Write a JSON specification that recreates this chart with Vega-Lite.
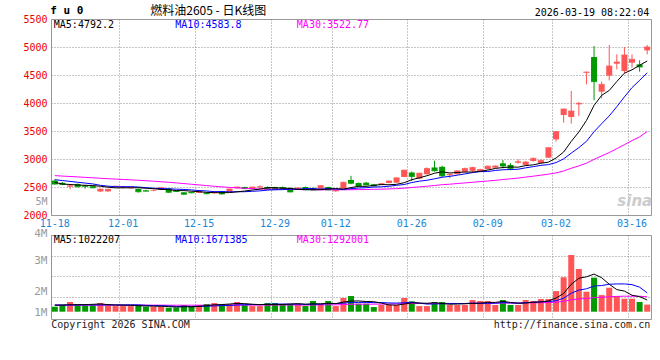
{
  "$schema": "https://vega.github.io/schema/vega-lite/v6.json",
  "background": "white",
  "padding": {"left": 22, "top": 4, "right": 10, "bottom": 30},
  "bounds": "flush",
  "spacing": 20,
  "config": {
    "view": {"stroke": "#999999", "strokeWidth": 1},
    "axis": {"labelFont": "DejaVu Sans Mono", "labelFontSize": 10, "labelOverlap": false, "labelFlush": false, "labelBound": false,
      "grid": true, "gridColor": "#8c8c8c", "gridDash": [1, 2], "gridWidth": 1, "ticks": false, "domain": false},
    "text": {"font": "DejaVu Sans Mono", "fontSize": 10}
  },
  "datasets": {
    "k": [
      {"d":"11-18","o":2614,"h":2630,"l":2540,"c":2552,"v":460000,"m5":2583,"m10":2631,"m30":2703,"v5":600000,"v10":620000,"v30":600000},
      {"d":"11-19","o":2575,"h":2590,"l":2535,"c":2545,"v":620000,"m5":2553,"m10":2615,"m30":2695,"v5":610000,"v10":620000,"v30":600000},
      {"d":"11-20","o":2505,"h":2540,"l":2460,"c":2522,"v":900000,"m5":2545,"m10":2600,"m30":2688,"v5":640000,"v10":625000,"v30":600000},
      {"d":"11-21","o":2555,"h":2562,"l":2495,"c":2505,"v":710000,"m5":2535,"m10":2585,"m30":2680,"v5":650000,"v10":630000,"v30":600000},
      {"d":"11-24","o":2525,"h":2540,"l":2470,"c":2510,"v":590000,"m5":2530,"m10":2570,"m30":2672,"v5":656000,"v10":630000,"v30":600000},
      {"d":"11-25","o":2515,"h":2520,"l":2480,"c":2485,"v":590000,"m5":2527,"m10":2555,"m30":2664,"v5":682000,"v10":630000,"v30":600000},
      {"d":"11-26","o":2420,"h":2470,"l":2410,"c":2462,"v":800000,"m5":2513,"m10":2530,"m30":2656,"v5":718000,"v10":630000,"v30":605000},
      {"d":"11-27","o":2422,"h":2468,"l":2412,"c":2460,"v":590000,"m5":2497,"m10":2515,"m30":2648,"v5":656000,"v10":630000,"v30":605000},
      {"d":"11-28","o":2495,"h":2520,"l":2490,"c":2515,"v":520000,"m5":2484,"m10":2505,"m30":2641,"v5":618000,"v10":630000,"v30":605000},
      {"d":"12-01","o":2492,"h":2520,"l":2470,"c":2505,"v":520000,"m5":2486,"m10":2505,"m30":2635,"v5":604000,"v10":630000,"v30":605000},
      {"d":"12-02","o":2480,"h":2500,"l":2470,"c":2495,"v":520000,"m5":2485,"m10":2506,"m30":2628,"v5":590000,"v10":636000,"v30":605000},
      {"d":"12-03","o":2465,"h":2470,"l":2400,"c":2415,"v":620000,"m5":2487,"m10":2500,"m30":2620,"v5":554000,"v10":636000,"v30":605000},
      {"d":"12-04","o":2440,"h":2450,"l":2420,"c":2425,"v":460000,"m5":2478,"m10":2487,"m30":2612,"v5":528000,"v10":592000,"v30":605000},
      {"d":"12-05","o":2435,"h":2455,"l":2425,"c":2442,"v":460000,"m5":2471,"m10":2478,"m30":2603,"v5":516000,"v10":567000,"v30":605000},
      {"d":"12-08","o":2450,"h":2490,"l":2445,"c":2490,"v":460000,"m5":2456,"m10":2471,"m30":2594,"v5":504000,"v10":554000,"v30":605000},
      {"d":"12-09","o":2470,"h":2475,"l":2395,"c":2405,"v":370000,"m5":2453,"m10":2469,"m30":2584,"v5":474000,"v10":532000,"v30":600000},
      {"d":"12-10","o":2440,"h":2445,"l":2415,"c":2420,"v":370000,"m5":2435,"m10":2461,"m30":2573,"v5":424000,"v10":489000,"v30":600000},
      {"d":"12-11","o":2405,"h":2410,"l":2360,"c":2370,"v":620000,"m5":2436,"m10":2457,"m30":2561,"v5":456000,"v10":492000,"v30":600000},
      {"d":"12-12","o":2410,"h":2415,"l":2390,"c":2395,"v":460000,"m5":2425,"m10":2448,"m30":2549,"v5":456000,"v10":486000,"v30":600000},
      {"d":"12-15","o":2395,"h":2440,"l":2390,"c":2430,"v":620000,"m5":2416,"m10":2436,"m30":2537,"v5":488000,"v10":496000,"v30":600000},
      {"d":"12-16","o":2400,"h":2405,"l":2370,"c":2380,"v":710000,"m5":2404,"m10":2429,"m30":2525,"v5":556000,"v10":515000,"v30":600000},
      {"d":"12-17","o":2390,"h":2430,"l":2380,"c":2420,"v":800000,"m5":2399,"m10":2417,"m30":2513,"v5":642000,"v10":533000,"v30":600000},
      {"d":"12-18","o":2423,"h":2430,"l":2365,"c":2375,"v":710000,"m5":2399,"m10":2418,"m30":2502,"v5":660000,"v10":558000,"v30":600000},
      {"d":"12-19","o":2411,"h":2470,"l":2405,"c":2465,"v":710000,"m5":2400,"m10":2413,"m30":2493,"v5":710000,"v10":583000,"v30":600000},
      {"d":"12-22","o":2477,"h":2505,"l":2470,"c":2500,"v":900000,"m5":2414,"m10":2415,"m30":2485,"v5":766000,"v10":627000,"v30":605000},
      {"d":"12-23","o":2500,"h":2505,"l":2465,"c":2471,"v":620000,"m5":2428,"m10":2416,"m30":2477,"v5":748000,"v10":652000,"v30":605000},
      {"d":"12-24","o":2471,"h":2505,"l":2465,"c":2500,"v":520000,"m5":2446,"m10":2423,"m30":2470,"v5":692000,"v10":667000,"v30":605000},
      {"d":"12-25","o":2494,"h":2530,"l":2471,"c":2506,"v":520000,"m5":2462,"m10":2431,"m30":2465,"v5":654000,"v10":657000,"v30":608000},
      {"d":"12-26","o":2500,"h":2510,"l":2450,"c":2459,"v":800000,"m5":2488,"m10":2444,"m30":2462,"v5":672000,"v10":691000,"v30":610000},
      {"d":"12-29","o":2500,"h":2505,"l":2445,"c":2453,"v":800000,"m5":2487,"m10":2451,"m30":2462,"v5":652000,"v10":709000,"v30":612000},
      {"d":"12-30","o":2500,"h":2510,"l":2455,"c":2459,"v":710000,"m5":2478,"m10":2453,"m30":2463,"v5":670000,"v10":709000,"v30":620000},
      {"d":"12-31","o":2483,"h":2490,"l":2405,"c":2411,"v":710000,"m5":2475,"m10":2461,"m30":2460,"v5":708000,"v10":700000,"v30":623000},
      {"d":"01-05","o":2459,"h":2490,"l":2455,"c":2483,"v":710000,"m5":2458,"m10":2460,"m30":2455,"v5":746000,"v10":700000,"v30":617000},
      {"d":"01-06","o":2500,"h":2510,"l":2445,"c":2453,"v":520000,"m5":2453,"m10":2471,"m30":2454,"v5":690000,"v10":681000,"v30":610000},
      {"d":"01-07","o":2483,"h":2490,"l":2440,"c":2447,"v":990000,"m5":2452,"m10":2470,"m30":2452,"v5":728000,"v10":690000,"v30":624000},
      {"d":"01-08","o":2471,"h":2530,"l":2465,"c":2524,"v":710000,"m5":2451,"m10":2464,"m30":2450,"v5":728000,"v10":699000,"v30":628000},
      {"d":"01-09","o":2500,"h":2505,"l":2440,"c":2447,"v":990000,"m5":2464,"m10":2470,"m30":2451,"v5":784000,"v10":746000,"v30":634000},
      {"d":"01-12","o":2423,"h":2445,"l":2415,"c":2441,"v":520000,"m5":2471,"m10":2464,"m30":2451,"v5":746000,"v10":746000,"v30":632000},
      {"d":"01-13","o":2471,"h":2595,"l":2465,"c":2584,"v":1270000,"m5":2462,"m10":2458,"m30":2450,"v5":896000,"v10":793000,"v30":657000},
      {"d":"01-14","o":2626,"h":2699,"l":2548,"c":2566,"v":1450000,"m5":2489,"m10":2470,"m30":2452,"v5":988000,"v10":858000,"v30":688000},
      {"d":"01-15","o":2572,"h":2580,"l":2510,"c":2518,"v":740000,"m5":2512,"m10":2482,"m30":2454,"v5":994000,"v10":861000,"v30":695000},
      {"d":"01-16","o":2578,"h":2590,"l":2530,"c":2536,"v":740000,"m5":2511,"m10":2487,"m30":2455,"v5":944000,"v10":864000,"v30":699000},
      {"d":"01-19","o":2548,"h":2555,"l":2512,"c":2518,"v":430000,"m5":2529,"m10":2500,"m30":2459,"v5":926000,"v10":836000,"v30":698000},
      {"d":"01-20","o":2536,"h":2570,"l":2530,"c":2560,"v":620000,"m5":2544,"m10":2503,"m30":2462,"v5":796000,"v10":846000,"v30":703000},
      {"d":"01-21","o":2572,"h":2612,"l":2566,"c":2608,"v":620000,"m5":2540,"m10":2514,"m30":2466,"v5":630000,"v10":809000,"v30":709000},
      {"d":"01-22","o":2578,"h":2668,"l":2572,"c":2663,"v":620000,"m5":2548,"m10":2530,"m30":2470,"v5":606000,"v10":800000,"v30":717000},
      {"d":"01-23","o":2680,"h":2810,"l":2675,"c":2801,"v":1270000,"m5":2577,"m10":2544,"m30":2479,"v5":712000,"v10":828000,"v30":747000},
      {"d":"01-26","o":2759,"h":2777,"l":2608,"c":2687,"v":960000,"m5":2630,"m10":2580,"m30":2491,"v5":818000,"v10":872000,"v30":758000},
      {"d":"01-27","o":2650,"h":2752,"l":2640,"c":2747,"v":520000,"m5":2664,"m10":2604,"m30":2502,"v5":798000,"v10":797000,"v30":760000},
      {"d":"01-28","o":2729,"h":2849,"l":2720,"c":2831,"v":520000,"m5":2701,"m10":2620,"m30":2514,"v5":778000,"v10":704000,"v30":757000},
      {"d":"01-29","o":2849,"h":2970,"l":2777,"c":2789,"v":900000,"m5":2746,"m10":2647,"m30":2527,"v5":834000,"v10":720000,"v30":763000},
      {"d":"01-30","o":2861,"h":2880,"l":2680,"c":2699,"v":900000,"m5":2771,"m10":2674,"m30":2541,"v5":760000,"v10":736000,"v30":767000},
      {"d":"02-02","o":2710,"h":2735,"l":2657,"c":2728,"v":620000,"m5":2751,"m10":2690,"m30":2550,"v5":692000,"v10":755000,"v30":764000},
      {"d":"02-03","o":2729,"h":2795,"l":2720,"c":2789,"v":620000,"m5":2759,"m10":2711,"m30":2562,"v5":712000,"v10":755000,"v30":761000},
      {"d":"02-04","o":2771,"h":2845,"l":2765,"c":2831,"v":620000,"m5":2767,"m10":2734,"m30":2573,"v5":732000,"v10":755000,"v30":751000},
      {"d":"02-05","o":2789,"h":2861,"l":2753,"c":2849,"v":1080000,"m5":2767,"m10":2757,"m30":2584,"v5":768000,"v10":801000,"v30":767000},
      {"d":"02-06","o":2777,"h":2825,"l":2770,"c":2813,"v":990000,"m5":2779,"m10":2775,"m30":2596,"v5":786000,"v10":773000,"v30":782000},
      {"d":"02-09","o":2819,"h":2880,"l":2810,"c":2873,"v":990000,"m5":2802,"m10":2776,"m30":2607,"v5":860000,"v10":776000,"v30":798000},
      {"d":"02-10","o":2845,"h":2885,"l":2840,"c":2875,"v":620000,"m5":2831,"m10":2795,"m30":2619,"v5":860000,"v10":786000,"v30":792000},
      {"d":"02-11","o":2923,"h":2982,"l":2833,"c":2875,"v":1080000,"m5":2848,"m10":2808,"m30":2633,"v5":952000,"v10":842000,"v30":801000},
      {"d":"02-12","o":2893,"h":2923,"l":2798,"c":2833,"v":620000,"m5":2857,"m10":2812,"m30":2647,"v5":860000,"v10":814000,"v30":798000},
      {"d":"02-13","o":2934,"h":2994,"l":2917,"c":2952,"v":620000,"m5":2854,"m10":2817,"m30":2659,"v5":786000,"v10":786000,"v30":795000},
      {"d":"02-24","o":2893,"h":2964,"l":2875,"c":2946,"v":1080000,"m5":2882,"m10":2842,"m30":2677,"v5":804000,"v10":832000,"v30":808000},
      {"d":"02-25","o":2964,"h":3024,"l":2952,"c":3012,"v":990000,"m5":2896,"m10":2864,"m30":2693,"v5":878000,"v10":869000,"v30":823000},
      {"d":"02-26","o":2929,"h":2990,"l":2920,"c":2976,"v":1170000,"m5":2924,"m10":2886,"m30":2711,"v5":896000,"v10":924000,"v30":829000},
      {"d":"02-27","o":3024,"h":3210,"l":3020,"c":3202,"v":1170000,"m5":2944,"m10":2900,"m30":2729,"v5":1006000,"v10":933000,"v30":845000},
      {"d":"03-02","o":3351,"h":3495,"l":3310,"c":3488,"v":1910000,"m5":3018,"m10":2936,"m30":2752,"v5":1264000,"v10":1025000,"v30":875000},
      {"d":"03-03","o":3786,"h":3900,"l":3649,"c":3893,"v":3200000,"m5":3125,"m10":3003,"m30":2786,"v5":1688000,"v10":1246000,"v30":965000},
      {"d":"03-04","o":3750,"h":4214,"l":3631,"c":3857,"v":5250000,"m5":3314,"m10":3105,"m30":2835,"v5":2540000,"v10":1709000,"v30":1097000},
      {"d":"03-05","o":3976,"h":4018,"l":3768,"c":3994,"v":3950000,"m5":3483,"m10":3203,"m30":2877,"v5":3096000,"v10":1996000,"v30":1181000},
      {"d":"03-06","o":4541,"h":4560,"l":4333,"c":4553,"v":1850000,"m5":3687,"m10":3315,"m30":2925,"v5":3232000,"v10":2119000,"v30":1218000},
      {"d":"03-09","o":4821,"h":5018,"l":4048,"c":4381,"v":3150000,"m5":3957,"m10":3487,"m30":2993,"v5":3480000,"v10":2372000,"v30":1298000},
      {"d":"03-10","o":4202,"h":4381,"l":4083,"c":4333,"v":1540000,"m5":4136,"m10":3630,"m30":3054,"v5":3148000,"v10":2418000,"v30":1335000},
      {"d":"03-11","o":4488,"h":5036,"l":4405,"c":4661,"v":2220000,"m5":4224,"m10":3769,"m30":3115,"v5":2542000,"v10":2541000,"v30":1388000},
      {"d":"03-12","o":4702,"h":4869,"l":4601,"c":4732,"v":1450000,"m5":4384,"m10":3934,"m30":3185,"v5":2042000,"v10":2569000,"v30":1416000},
      {"d":"03-13","o":4571,"h":5000,"l":4530,"c":4857,"v":1200000,"m5":4532,"m10":4109,"m30":3255,"v5":1912000,"v10":2572000,"v30":1435000},
      {"d":"03-16","o":4720,"h":4869,"l":4631,"c":4780,"v":1200000,"m5":4593,"m10":4275,"m30":3329,"v5":1522000,"v10":2501000,"v30":1433000},
      {"d":"03-17","o":4690,"h":4762,"l":4559,"c":4643,"v":900000,"m5":4673,"m10":4404,"m30":3395,"v5":1394000,"v10":2271000,"v30":1431000},
      {"d":"03-18","o":4940,"h":5036,"l":4869,"c":5000,"v":660000,"m5":4750,"m10":4540,"m30":3490,"v5":1082000,"v10":1740000,"v30":1380000}
    ]
  },
  "vconcat": [
    {
      "width": 600,
      "height": 196,
      "data": {"name": "k"},
      "layer": [
        {
          "mark": {"type": "rule", "strokeWidth": 1},
          "encoding": {
            "x": {"field": "d", "type": "ordinal", "sort": null, "scale": {"type": "band", "paddingInner": 0, "paddingOuter": 0},
              "axis": {"values": ["11-18","12-01","12-15","12-29","01-12","01-26","02-09","03-02","03-16"], "bandPosition": 0, "title": null, "ticks": false, "domain": false, "grid": true, "gridColor": "#8c8c8c", "gridDash": [1, 2], "labelAngle": 0, "labelColor": "#1a86d6", "labelPadding": 3, "labelBaseline": "top", "labelOverlap": false, "labelFlush": false}},
            "y": {"field": "l", "type": "quantitative", "scale": {"domain": [2000, 5500], "nice": false, "zero": false},
              "axis": {"values": [2000, 2240, 2500, 3000, 3500, 4000, 4500, 5000, 5500], "format": "d", "labelExpr": "datum.value == 2240 ? '5M' : datum.label", "title": null, "ticks": false, "domain": false, "grid": true, "gridColor": "#8c8c8c", "gridDash": [1, 2], "gridOpacity": {"condition": {"test": "datum.value == 2000 || datum.value == 2240 || datum.value == 5500", "value": 0}, "value": 1}, "labelColor": {"condition": {"test": "datum.value == 2240", "value": "#9a9a9a"}, "value": "#ee0000"}, "labelPadding": 4, "labelOverlap": false, "labelFlush": false, "minExtent": 28, "maxExtent": 28}},
            "y2": {"field": "h"},
            "color": {"condition": {"test": "datum.c >= datum.o", "value": "#ff5555"}, "value": "#009a00"}
          }
        },
        {
          "mark": {"type": "bar", "size": 6},
          "encoding": {
            "x": {"field": "d", "type": "ordinal", "sort": null, "scale": {"type": "band", "paddingInner": 0, "paddingOuter": 0},
              "axis": {"values": ["11-18","12-01","12-15","12-29","01-12","01-26","02-09","03-02","03-16"], "bandPosition": 0, "title": null, "ticks": false, "domain": false, "grid": true, "gridColor": "#8c8c8c", "gridDash": [1, 2], "labelAngle": 0, "labelColor": "#1a86d6", "labelPadding": 3, "labelBaseline": "top", "labelOverlap": false, "labelFlush": false}},
            "y": {"field": "o", "type": "quantitative",
              "axis": {"values": [2000, 2240, 2500, 3000, 3500, 4000, 4500, 5000, 5500], "format": "d", "labelExpr": "datum.value == 2240 ? '5M' : datum.label", "title": null, "ticks": false, "domain": false, "grid": true, "gridColor": "#8c8c8c", "gridDash": [1, 2], "gridOpacity": {"condition": {"test": "datum.value == 2000 || datum.value == 2240 || datum.value == 5500", "value": 0}, "value": 1}, "labelColor": {"condition": {"test": "datum.value == 2240", "value": "#9a9a9a"}, "value": "#ee0000"}, "labelPadding": 4, "labelOverlap": false, "labelFlush": false, "minExtent": 28, "maxExtent": 28}},
            "y2": {"field": "c"},
            "color": {"condition": {"test": "datum.c >= datum.o", "value": "#ff5555"}, "value": "#009a00"}
          }
        },
        {
          "mark": {"type": "tick", "size": 6, "thickness": 1},
          "encoding": {
            "x": {"field": "d", "type": "ordinal", "sort": null, "scale": {"type": "band", "paddingInner": 0, "paddingOuter": 0},
              "axis": {"values": ["11-18","12-01","12-15","12-29","01-12","01-26","02-09","03-02","03-16"], "bandPosition": 0, "title": null, "ticks": false, "domain": false, "grid": true, "gridColor": "#8c8c8c", "gridDash": [1, 2], "labelAngle": 0, "labelColor": "#1a86d6", "labelPadding": 3, "labelBaseline": "top", "labelOverlap": false, "labelFlush": false}},
            "y": {"field": "c", "type": "quantitative",
              "axis": {"values": [2000, 2240, 2500, 3000, 3500, 4000, 4500, 5000, 5500], "format": "d", "labelExpr": "datum.value == 2240 ? '5M' : datum.label", "title": null, "ticks": false, "domain": false, "grid": true, "gridColor": "#8c8c8c", "gridDash": [1, 2], "gridOpacity": {"condition": {"test": "datum.value == 2000 || datum.value == 2240 || datum.value == 5500", "value": 0}, "value": 1}, "labelColor": {"condition": {"test": "datum.value == 2240", "value": "#9a9a9a"}, "value": "#ee0000"}, "labelPadding": 4, "labelOverlap": false, "labelFlush": false, "minExtent": 28, "maxExtent": 28}},
            "color": {"condition": {"test": "datum.c >= datum.o", "value": "#ff5555"}, "value": "#009a00"}
          }
        },
        {
          "mark": {"type": "line", "color": "#ff00ff", "strokeWidth": 1},
          "encoding": {
            "x": {"field": "d", "type": "ordinal", "sort": null, "scale": {"type": "band", "paddingInner": 0, "paddingOuter": 0},
              "axis": {"values": ["11-18","12-01","12-15","12-29","01-12","01-26","02-09","03-02","03-16"], "bandPosition": 0, "title": null, "ticks": false, "domain": false, "grid": true, "gridColor": "#8c8c8c", "gridDash": [1, 2], "labelAngle": 0, "labelColor": "#1a86d6", "labelPadding": 3, "labelBaseline": "top", "labelOverlap": false, "labelFlush": false}},
            "y": {"field": "m30", "type": "quantitative",
              "axis": {"values": [2000, 2240, 2500, 3000, 3500, 4000, 4500, 5000, 5500], "format": "d", "labelExpr": "datum.value == 2240 ? '5M' : datum.label", "title": null, "ticks": false, "domain": false, "grid": true, "gridColor": "#8c8c8c", "gridDash": [1, 2], "gridOpacity": {"condition": {"test": "datum.value == 2000 || datum.value == 2240 || datum.value == 5500", "value": 0}, "value": 1}, "labelColor": {"condition": {"test": "datum.value == 2240", "value": "#9a9a9a"}, "value": "#ee0000"}, "labelPadding": 4, "labelOverlap": false, "labelFlush": false, "minExtent": 28, "maxExtent": 28}}
          }
        },
        {
          "mark": {"type": "line", "color": "#0000ff", "strokeWidth": 1},
          "encoding": {
            "x": {"field": "d", "type": "ordinal", "sort": null, "scale": {"type": "band", "paddingInner": 0, "paddingOuter": 0},
              "axis": {"values": ["11-18","12-01","12-15","12-29","01-12","01-26","02-09","03-02","03-16"], "bandPosition": 0, "title": null, "ticks": false, "domain": false, "grid": true, "gridColor": "#8c8c8c", "gridDash": [1, 2], "labelAngle": 0, "labelColor": "#1a86d6", "labelPadding": 3, "labelBaseline": "top", "labelOverlap": false, "labelFlush": false}},
            "y": {"field": "m10", "type": "quantitative",
              "axis": {"values": [2000, 2240, 2500, 3000, 3500, 4000, 4500, 5000, 5500], "format": "d", "labelExpr": "datum.value == 2240 ? '5M' : datum.label", "title": null, "ticks": false, "domain": false, "grid": true, "gridColor": "#8c8c8c", "gridDash": [1, 2], "gridOpacity": {"condition": {"test": "datum.value == 2000 || datum.value == 2240 || datum.value == 5500", "value": 0}, "value": 1}, "labelColor": {"condition": {"test": "datum.value == 2240", "value": "#9a9a9a"}, "value": "#ee0000"}, "labelPadding": 4, "labelOverlap": false, "labelFlush": false, "minExtent": 28, "maxExtent": 28}}
          }
        },
        {
          "mark": {"type": "line", "color": "#000000", "strokeWidth": 1},
          "encoding": {
            "x": {"field": "d", "type": "ordinal", "sort": null, "scale": {"type": "band", "paddingInner": 0, "paddingOuter": 0},
              "axis": {"values": ["11-18","12-01","12-15","12-29","01-12","01-26","02-09","03-02","03-16"], "bandPosition": 0, "title": null, "ticks": false, "domain": false, "grid": true, "gridColor": "#8c8c8c", "gridDash": [1, 2], "labelAngle": 0, "labelColor": "#1a86d6", "labelPadding": 3, "labelBaseline": "top", "labelOverlap": false, "labelFlush": false}},
            "y": {"field": "m5", "type": "quantitative",
              "axis": {"values": [2000, 2240, 2500, 3000, 3500, 4000, 4500, 5000, 5500], "format": "d", "labelExpr": "datum.value == 2240 ? '5M' : datum.label", "title": null, "ticks": false, "domain": false, "grid": true, "gridColor": "#8c8c8c", "gridDash": [1, 2], "gridOpacity": {"condition": {"test": "datum.value == 2000 || datum.value == 2240 || datum.value == 5500", "value": 0}, "value": 1}, "labelColor": {"condition": {"test": "datum.value == 2240", "value": "#9a9a9a"}, "value": "#ee0000"}, "labelPadding": 4, "labelOverlap": false, "labelFlush": false, "minExtent": 28, "maxExtent": 28}}
          }
        },
        {
          "data": {"values": [
            {"t": "MA5:4792.2", "a": "11-18"},
            {"t": "MA10:4583.8", "a": "12-10"},
            {"t": "MA30:3522.77", "a": "01-05"}
          ]},
          "mark": {"type": "text", "align": "left", "baseline": "middle", "dx": -1, "dy": 6},
          "encoding": {
            "x": {"field": "a", "type": "ordinal", "sort": null, "scale": {"type": "band", "paddingInner": 0, "paddingOuter": 0},
              "axis": {"values": ["11-18","12-01","12-15","12-29","01-12","01-26","02-09","03-02","03-16"], "bandPosition": 0, "title": null, "ticks": false, "domain": false, "grid": true, "gridColor": "#8c8c8c", "gridDash": [1, 2], "labelAngle": 0, "labelColor": "#1a86d6", "labelPadding": 3, "labelBaseline": "top", "labelOverlap": false, "labelFlush": false}},
            "y": {"datum": 5500, "type": "quantitative",
              "axis": {"values": [2000, 2240, 2500, 3000, 3500, 4000, 4500, 5000, 5500], "format": "d", "labelExpr": "datum.value == 2240 ? '5M' : datum.label", "title": null, "ticks": false, "domain": false, "grid": true, "gridColor": "#8c8c8c", "gridDash": [1, 2], "gridOpacity": {"condition": {"test": "datum.value == 2000 || datum.value == 2240 || datum.value == 5500", "value": 0}, "value": 1}, "labelColor": {"condition": {"test": "datum.value == 2240", "value": "#9a9a9a"}, "value": "#ee0000"}, "labelPadding": 4, "labelOverlap": false, "labelFlush": false, "minExtent": 28, "maxExtent": 28}},
            "text": {"field": "t"},
            "color": {"field": "t", "type": "nominal", "scale": {"domain": ["MA5:4792.2", "MA10:4583.8", "MA30:3522.77"], "range": ["#000000", "#0000ff", "#ff00ff"]}, "legend": null}
          }
        },
        {
          "data": {"values": [
            {"t": "f u 0", "a": "11-18"}
          ]},
          "mark": {"type": "text", "align": "left", "baseline": "middle", "dx": -4.5, "dy": -8, "color": "#000000", "fontWeight": "bold", "fontSize": 11},
          "encoding": {
            "x": {"field": "a", "type": "ordinal", "sort": null, "scale": {"type": "band", "paddingInner": 0, "paddingOuter": 0},
              "axis": {"values": ["11-18","12-01","12-15","12-29","01-12","01-26","02-09","03-02","03-16"], "bandPosition": 0, "title": null, "ticks": false, "domain": false, "grid": true, "gridColor": "#8c8c8c", "gridDash": [1, 2], "labelAngle": 0, "labelColor": "#1a86d6", "labelPadding": 3, "labelBaseline": "top", "labelOverlap": false, "labelFlush": false}},
            "y": {"datum": 5500, "type": "quantitative",
              "axis": {"values": [2000, 2240, 2500, 3000, 3500, 4000, 4500, 5000, 5500], "format": "d", "labelExpr": "datum.value == 2240 ? '5M' : datum.label", "title": null, "ticks": false, "domain": false, "grid": true, "gridColor": "#8c8c8c", "gridDash": [1, 2], "gridOpacity": {"condition": {"test": "datum.value == 2000 || datum.value == 2240 || datum.value == 5500", "value": 0}, "value": 1}, "labelColor": {"condition": {"test": "datum.value == 2240", "value": "#9a9a9a"}, "value": "#ee0000"}, "labelPadding": 4, "labelOverlap": false, "labelFlush": false, "minExtent": 28, "maxExtent": 28}},
            "text": {"field": "t"}
          }
        },
        {
          "data": {"values": [
            {"t": "燃料油2605 - 日K线图", "a": "12-16"}
          ]},
          "mark": {"type": "text", "align": "center", "baseline": "middle", "dx": 1.5, "dy": -8, "color": "#000000", "font": "Noto Sans CJK SC", "fontSize": 12},
          "encoding": {
            "x": {"field": "a", "type": "ordinal", "sort": null, "scale": {"type": "band", "paddingInner": 0, "paddingOuter": 0},
              "axis": {"values": ["11-18","12-01","12-15","12-29","01-12","01-26","02-09","03-02","03-16"], "bandPosition": 0, "title": null, "ticks": false, "domain": false, "grid": true, "gridColor": "#8c8c8c", "gridDash": [1, 2], "labelAngle": 0, "labelColor": "#1a86d6", "labelPadding": 3, "labelBaseline": "top", "labelOverlap": false, "labelFlush": false}},
            "y": {"datum": 5500, "type": "quantitative",
              "axis": {"values": [2000, 2240, 2500, 3000, 3500, 4000, 4500, 5000, 5500], "format": "d", "labelExpr": "datum.value == 2240 ? '5M' : datum.label", "title": null, "ticks": false, "domain": false, "grid": true, "gridColor": "#8c8c8c", "gridDash": [1, 2], "gridOpacity": {"condition": {"test": "datum.value == 2000 || datum.value == 2240 || datum.value == 5500", "value": 0}, "value": 1}, "labelColor": {"condition": {"test": "datum.value == 2240", "value": "#9a9a9a"}, "value": "#ee0000"}, "labelPadding": 4, "labelOverlap": false, "labelFlush": false, "minExtent": 28, "maxExtent": 28}},
            "text": {"field": "t"}
          }
        },
        {
          "data": {"values": [
            {"t": "2026-03-19 08:22:04", "a": "03-18"}
          ]},
          "mark": {"type": "text", "align": "right", "baseline": "middle", "dx": 2, "dy": -6, "color": "#000000"},
          "encoding": {
            "x": {"field": "a", "type": "ordinal", "sort": null, "scale": {"type": "band", "paddingInner": 0, "paddingOuter": 0},
              "axis": {"values": ["11-18","12-01","12-15","12-29","01-12","01-26","02-09","03-02","03-16"], "bandPosition": 0, "title": null, "ticks": false, "domain": false, "grid": true, "gridColor": "#8c8c8c", "gridDash": [1, 2], "labelAngle": 0, "labelColor": "#1a86d6", "labelPadding": 3, "labelBaseline": "top", "labelOverlap": false, "labelFlush": false}},
            "y": {"datum": 5500, "type": "quantitative",
              "axis": {"values": [2000, 2240, 2500, 3000, 3500, 4000, 4500, 5000, 5500], "format": "d", "labelExpr": "datum.value == 2240 ? '5M' : datum.label", "title": null, "ticks": false, "domain": false, "grid": true, "gridColor": "#8c8c8c", "gridDash": [1, 2], "gridOpacity": {"condition": {"test": "datum.value == 2000 || datum.value == 2240 || datum.value == 5500", "value": 0}, "value": 1}, "labelColor": {"condition": {"test": "datum.value == 2240", "value": "#9a9a9a"}, "value": "#ee0000"}, "labelPadding": 4, "labelOverlap": false, "labelFlush": false, "minExtent": 28, "maxExtent": 28}},
            "text": {"field": "t"}
          }
        },
        {
          "data": {"values": [
            {"t": "sina", "a": "03-18"}
          ]},
          "mark": {"type": "text", "align": "right", "baseline": "middle", "dx": 5, "dy": -14, "color": "#cccccc", "fontStyle": "italic", "fontWeight": "bold", "fontSize": 15, "font": "DejaVu Sans"},
          "encoding": {
            "x": {"field": "a", "type": "ordinal", "sort": null, "scale": {"type": "band", "paddingInner": 0, "paddingOuter": 0},
              "axis": {"values": ["11-18","12-01","12-15","12-29","01-12","01-26","02-09","03-02","03-16"], "bandPosition": 0, "title": null, "ticks": false, "domain": false, "grid": true, "gridColor": "#8c8c8c", "gridDash": [1, 2], "labelAngle": 0, "labelColor": "#1a86d6", "labelPadding": 3, "labelBaseline": "top", "labelOverlap": false, "labelFlush": false}},
            "y": {"datum": 2000, "type": "quantitative",
              "axis": {"values": [2000, 2240, 2500, 3000, 3500, 4000, 4500, 5000, 5500], "format": "d", "labelExpr": "datum.value == 2240 ? '5M' : datum.label", "title": null, "ticks": false, "domain": false, "grid": true, "gridColor": "#8c8c8c", "gridDash": [1, 2], "gridOpacity": {"condition": {"test": "datum.value == 2000 || datum.value == 2240 || datum.value == 5500", "value": 0}, "value": 1}, "labelColor": {"condition": {"test": "datum.value == 2240", "value": "#9a9a9a"}, "value": "#ee0000"}, "labelPadding": 4, "labelOverlap": false, "labelFlush": false, "minExtent": 28, "maxExtent": 28}},
            "text": {"field": "t"}
          }
        }
      ]
    },
    {
      "width": 600,
      "height": 84,
      "data": {"name": "k"},
      "layer": [
        {
          "mark": {"type": "bar", "size": 6},
          "encoding": {
            "x": {"field": "d", "type": "ordinal", "sort": null, "scale": {"type": "band", "paddingInner": 0, "paddingOuter": 0},
              "axis": {"values": ["11-18","12-01","12-15","12-29","01-12","01-26","02-09","03-02","03-16"], "bandPosition": 0, "title": null, "ticks": false, "domain": false, "labels": false, "grid": true, "gridColor": "#8c8c8c", "gridDash": [1, 2], "labelOverlap": false}},
            "y": {"field": "v", "type": "quantitative", "scale": {"domain": [-676000, 7100000], "nice": false},
              "axis": {"values": [7100000, 5157000, 4694000, 3306000, 1824000, 1361000, -120000], "labelExpr": "datum.value == 7100000 ? '4M' : datum.value == 4694000 ? '3M' : datum.value == 1824000 ? '2M' : datum.value == -120000 ? '1M' : ''", "title": null, "ticks": false, "domain": false, "grid": true, "gridColor": "#8c8c8c", "gridDash": [1, 2], "gridOpacity": {"condition": {"test": "datum.value == 5157000 || datum.value == 3306000 || datum.value == 1361000", "value": 1}, "value": 0}, "labelColor": "#9a9a9a", "labelFontSize": 11, "labelPadding": 4, "labelOverlap": false, "labelFlush": false, "labelOffset": {"condition": {"test": "datum.value == 7100000", "value": -2}, "value": 0}, "minExtent": 28, "maxExtent": 28}},
            "y2": {"datum": 0},
            "color": {"condition": {"test": "datum.c >= datum.o", "value": "#ff5555"}, "value": "#009a00"}
          }
        },
        {
          "mark": {"type": "line", "color": "#ff00ff", "strokeWidth": 1},
          "encoding": {
            "x": {"field": "d", "type": "ordinal", "sort": null, "scale": {"type": "band", "paddingInner": 0, "paddingOuter": 0},
              "axis": {"values": ["11-18","12-01","12-15","12-29","01-12","01-26","02-09","03-02","03-16"], "bandPosition": 0, "title": null, "ticks": false, "domain": false, "labels": false, "grid": true, "gridColor": "#8c8c8c", "gridDash": [1, 2], "labelOverlap": false}},
            "y": {"field": "v30", "type": "quantitative",
              "axis": {"values": [7100000, 5157000, 4694000, 3306000, 1824000, 1361000, -120000], "labelExpr": "datum.value == 7100000 ? '4M' : datum.value == 4694000 ? '3M' : datum.value == 1824000 ? '2M' : datum.value == -120000 ? '1M' : ''", "title": null, "ticks": false, "domain": false, "grid": true, "gridColor": "#8c8c8c", "gridDash": [1, 2], "gridOpacity": {"condition": {"test": "datum.value == 5157000 || datum.value == 3306000 || datum.value == 1361000", "value": 1}, "value": 0}, "labelColor": "#9a9a9a", "labelFontSize": 11, "labelPadding": 4, "labelOverlap": false, "labelFlush": false, "labelOffset": {"condition": {"test": "datum.value == 7100000", "value": -2}, "value": 0}, "minExtent": 28, "maxExtent": 28}}
          }
        },
        {
          "mark": {"type": "line", "color": "#0000ff", "strokeWidth": 1},
          "encoding": {
            "x": {"field": "d", "type": "ordinal", "sort": null, "scale": {"type": "band", "paddingInner": 0, "paddingOuter": 0},
              "axis": {"values": ["11-18","12-01","12-15","12-29","01-12","01-26","02-09","03-02","03-16"], "bandPosition": 0, "title": null, "ticks": false, "domain": false, "labels": false, "grid": true, "gridColor": "#8c8c8c", "gridDash": [1, 2], "labelOverlap": false}},
            "y": {"field": "v10", "type": "quantitative",
              "axis": {"values": [7100000, 5157000, 4694000, 3306000, 1824000, 1361000, -120000], "labelExpr": "datum.value == 7100000 ? '4M' : datum.value == 4694000 ? '3M' : datum.value == 1824000 ? '2M' : datum.value == -120000 ? '1M' : ''", "title": null, "ticks": false, "domain": false, "grid": true, "gridColor": "#8c8c8c", "gridDash": [1, 2], "gridOpacity": {"condition": {"test": "datum.value == 5157000 || datum.value == 3306000 || datum.value == 1361000", "value": 1}, "value": 0}, "labelColor": "#9a9a9a", "labelFontSize": 11, "labelPadding": 4, "labelOverlap": false, "labelFlush": false, "labelOffset": {"condition": {"test": "datum.value == 7100000", "value": -2}, "value": 0}, "minExtent": 28, "maxExtent": 28}}
          }
        },
        {
          "mark": {"type": "line", "color": "#000000", "strokeWidth": 1},
          "encoding": {
            "x": {"field": "d", "type": "ordinal", "sort": null, "scale": {"type": "band", "paddingInner": 0, "paddingOuter": 0},
              "axis": {"values": ["11-18","12-01","12-15","12-29","01-12","01-26","02-09","03-02","03-16"], "bandPosition": 0, "title": null, "ticks": false, "domain": false, "labels": false, "grid": true, "gridColor": "#8c8c8c", "gridDash": [1, 2], "labelOverlap": false}},
            "y": {"field": "v5", "type": "quantitative",
              "axis": {"values": [7100000, 5157000, 4694000, 3306000, 1824000, 1361000, -120000], "labelExpr": "datum.value == 7100000 ? '4M' : datum.value == 4694000 ? '3M' : datum.value == 1824000 ? '2M' : datum.value == -120000 ? '1M' : ''", "title": null, "ticks": false, "domain": false, "grid": true, "gridColor": "#8c8c8c", "gridDash": [1, 2], "gridOpacity": {"condition": {"test": "datum.value == 5157000 || datum.value == 3306000 || datum.value == 1361000", "value": 1}, "value": 0}, "labelColor": "#9a9a9a", "labelFontSize": 11, "labelPadding": 4, "labelOverlap": false, "labelFlush": false, "labelOffset": {"condition": {"test": "datum.value == 7100000", "value": -2}, "value": 0}, "minExtent": 28, "maxExtent": 28}}
          }
        },
        {
          "data": {"values": [
            {"t": "MA5:1022207", "a": "11-18"},
            {"t": "MA10:1671385", "a": "12-10"},
            {"t": "MA30:1292001", "a": "01-05"}
          ]},
          "mark": {"type": "text", "align": "left", "baseline": "middle", "dx": -1, "dy": 5},
          "encoding": {
            "x": {"field": "a", "type": "ordinal", "sort": null, "scale": {"type": "band", "paddingInner": 0, "paddingOuter": 0},
              "axis": {"values": ["11-18","12-01","12-15","12-29","01-12","01-26","02-09","03-02","03-16"], "bandPosition": 0, "title": null, "ticks": false, "domain": false, "labels": false, "grid": true, "gridColor": "#8c8c8c", "gridDash": [1, 2], "labelOverlap": false}},
            "y": {"datum": 7100000, "type": "quantitative",
              "axis": {"values": [7100000, 5157000, 4694000, 3306000, 1824000, 1361000, -120000], "labelExpr": "datum.value == 7100000 ? '4M' : datum.value == 4694000 ? '3M' : datum.value == 1824000 ? '2M' : datum.value == -120000 ? '1M' : ''", "title": null, "ticks": false, "domain": false, "grid": true, "gridColor": "#8c8c8c", "gridDash": [1, 2], "gridOpacity": {"condition": {"test": "datum.value == 5157000 || datum.value == 3306000 || datum.value == 1361000", "value": 1}, "value": 0}, "labelColor": "#9a9a9a", "labelFontSize": 11, "labelPadding": 4, "labelOverlap": false, "labelFlush": false, "labelOffset": {"condition": {"test": "datum.value == 7100000", "value": -2}, "value": 0}, "minExtent": 28, "maxExtent": 28}},
            "text": {"field": "t"},
            "color": {"field": "t", "type": "nominal", "scale": {"domain": ["MA5:1022207", "MA10:1671385", "MA30:1292001"], "range": ["#000000", "#0000ff", "#ff00ff"]}, "legend": null}
          }
        },
        {
          "data": {"values": [
            {"t": "Copyright 2026 SINA.COM", "a": "11-18", "al": "left"},
            {"t": "http://finance.sina.com.cn", "a": "03-18", "al": "right"}
          ]},
          "mark": {"type": "text", "baseline": "middle", "dy": 6, "color": "#222222", "align": {"expr": "datum.al"}, "dx": {"expr": "datum.al == 'left' ? -3.5 : 3"}},
          "encoding": {
            "x": {"field": "a", "type": "ordinal", "sort": null, "scale": {"type": "band", "paddingInner": 0, "paddingOuter": 0},
              "axis": {"values": ["11-18","12-01","12-15","12-29","01-12","01-26","02-09","03-02","03-16"], "bandPosition": 0, "title": null, "ticks": false, "domain": false, "labels": false, "grid": true, "gridColor": "#8c8c8c", "gridDash": [1, 2], "labelOverlap": false}},
            "y": {"datum": -676000, "type": "quantitative",
              "axis": {"values": [7100000, 5157000, 4694000, 3306000, 1824000, 1361000, -120000], "labelExpr": "datum.value == 7100000 ? '4M' : datum.value == 4694000 ? '3M' : datum.value == 1824000 ? '2M' : datum.value == -120000 ? '1M' : ''", "title": null, "ticks": false, "domain": false, "grid": true, "gridColor": "#8c8c8c", "gridDash": [1, 2], "gridOpacity": {"condition": {"test": "datum.value == 5157000 || datum.value == 3306000 || datum.value == 1361000", "value": 1}, "value": 0}, "labelColor": "#9a9a9a", "labelFontSize": 11, "labelPadding": 4, "labelOverlap": false, "labelFlush": false, "labelOffset": {"condition": {"test": "datum.value == 7100000", "value": -2}, "value": 0}, "minExtent": 28, "maxExtent": 28}},
            "text": {"field": "t"}
          }
        }
      ]
    }
  ]
}
